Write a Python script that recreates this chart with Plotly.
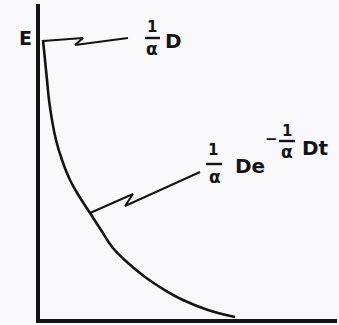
import plotly.graph_objects as go

# Decay curve E(t) sampled along the drawn line
t_curve = [0.3, 0.5, 0.7, 0.9, 1.2, 1.6, 2.2, 3.0, 3.9, 5.0, 6.1, 7.3, 8.8, 10.5, 12.3, 14.3, 16.8, 19.5]
e_curve = [27.9, 25.9, 23.9, 21.9, 19.9, 17.9, 15.9, 13.9, 12.3, 10.6, 8.9, 7.1, 5.6, 4.2, 3.0, 1.9, 0.9, 0.2]

# Zig-zag leader lines tying the labels to the plot
t_lead_top = [0.3, 4.3, 3.5, 8.8]
e_lead_top = [27.8, 28.1, 27.4, 28.1]
t_lead_curve = [5.0, 9.3, 8.5, 16.0]
e_lead_curve = [10.6, 12.5, 11.3, 14.7]

INK = "#141414"
FONT = "DejaVu Sans"

fig = go.Figure()
fig.add_trace(go.Scatter(x=t_curve, y=e_curve, mode="lines",
                         line=dict(color=INK, width=2.6, shape="spline", smoothing=1.2),
                         hoverinfo="skip", cliponaxis=False))
for tx, ey in ((t_lead_top, e_lead_top), (t_lead_curve, e_lead_curve)):
    fig.add_trace(go.Scatter(x=tx, y=ey, mode="lines",
                             line=dict(color=INK, width=2.0),
                             hoverinfo="skip", cliponaxis=False))


def label(x, y, text, size, ref="x"):
    fig.add_annotation(x=x, y=y, xref=ref, yref=ref.replace("x", "y"), text=text,
                       showarrow=False, xanchor="center", yanchor="middle",
                       font=dict(family=FONT, size=size, color=INK, weight="bold"))


def bar(x0, x1, y):
    fig.add_shape(type="line", xref="x", yref="y", x0=x0, x1=x1, y0=y, y1=y,
                  line=dict(color=INK, width=2.4))


# Axis name, left of the vertical axis (paper coordinates span the whole figure)
label(25 / 339, 1 - 38 / 325, "E", 19, ref="paper")

# 1/α D at the start of the curve
label(11.2, 29.2, "1", 15)
bar(10.5, 12.0, 28.1)
label(11.2, 27.0, "α", 17)
label(13.3, 27.8, "D", 20)

# 1/α D e^(-1/α D t) along the curve
label(17.3, 16.9, "1", 15)
bar(16.6, 18.2, 15.5)
label(17.5, 14.2, "α", 17)
label(21.0, 15.3, "De", 20)
label(23.1, 18.0, "−", 15)
label(24.7, 18.8, "1", 15)
bar(23.9, 25.5, 17.8)
label(24.7, 16.7, "α", 17)
label(27.5, 17.1, "Dt", 20)

fig.update_layout(
    width=339, height=325,
    margin=dict(l=0, r=0, t=0, b=0),
    paper_bgcolor="#f9f9fb", plot_bgcolor="#f9f9fb",
    showlegend=False,
    xaxis=dict(domain=[40 / 339, 337 / 339], range=[0, 29.7],
               showline=True, linecolor=INK, linewidth=3.5,
               showgrid=False, zeroline=False, showticklabels=False, ticks=""),
    yaxis=dict(domain=[6 / 325, 321 / 325], range=[0, 31.5],
               showline=True, linecolor=INK, linewidth=3.5,
               showgrid=False, zeroline=False, showticklabels=False, ticks=""),
)

fig.write_html("out.html")
